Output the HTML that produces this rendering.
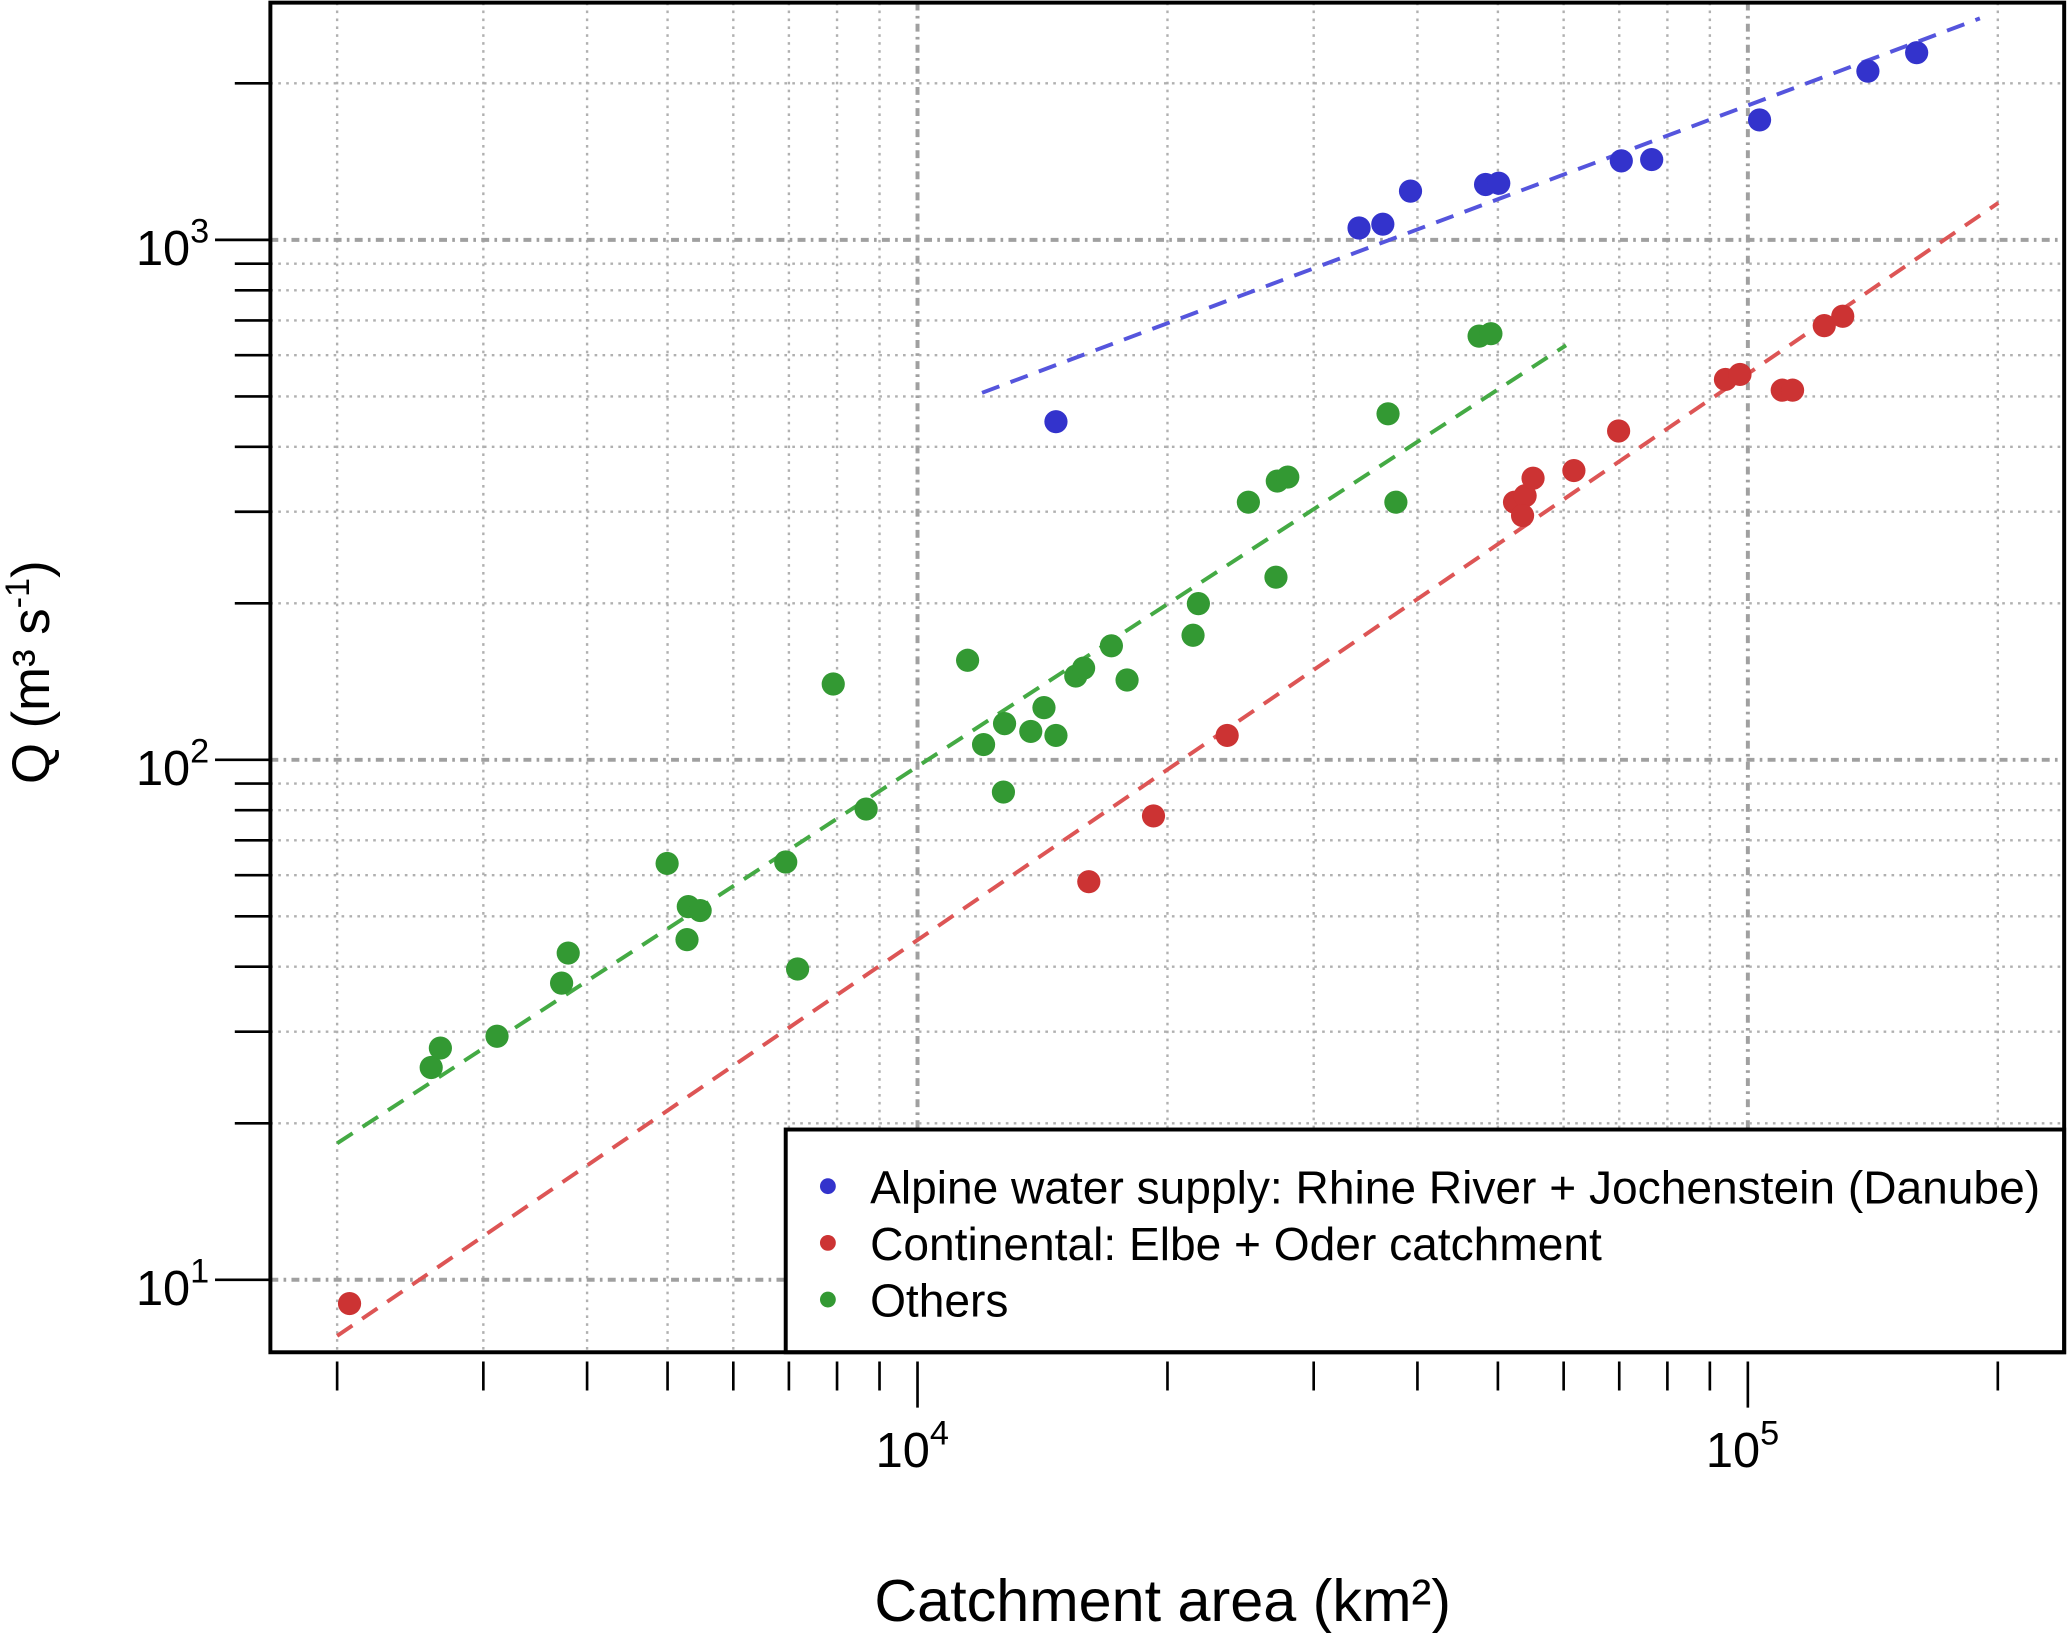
<!DOCTYPE html>
<html><head><meta charset="utf-8"><style>
html,body{margin:0;padding:0;background:#fff}
svg{display:block}
text{font-family:"Liberation Sans",Arial,sans-serif;fill:#000}
</style></head><body>
<svg id="chart" width="2067" height="1633" viewBox="0 0 1568 1239" xmlns="http://www.w3.org/2000/svg">
<g id="grid"></g>
<g id="trends"></g>
<g id="points"></g>
<g id="axes"></g>
<rect x="596" y="857" width="970" height="169" fill="#fff" stroke="#000" stroke-width="3"/>
<g><circle cx="628" cy="900" r="6" fill="#3333cc"/><text x="660" y="913" font-size="35">Alpine water supply: Rhine River + Jochenstein (Danube)</text></g>
<g><circle cx="628" cy="943" r="6" fill="#cc3333"/><text x="660" y="956" font-size="35">Continental: Elbe + Oder catchment</text></g>
<g><circle cx="628" cy="986" r="6" fill="#339933"/><text x="660" y="999" font-size="35">Others</text></g>
<rect x="205" y="2" width="1361" height="1024" fill="none" stroke="#000" stroke-width="3"/>
<text x="882" y="1230" font-size="45" text-anchor="middle">Catchment area (km²)</text>
<text transform="translate(37,510) rotate(-90)" font-size="40" text-anchor="middle">Q (m³ s<tspan dy="-15" font-size="26">-1</tspan><tspan dy="15">)</tspan></text>
</svg>
<script>
const blueX=[14680,34020,36340,39240,48320,50120,70400,76590,103300,139500,159700];
const blueY=[447,1054,1072,1241,1278,1285,1419,1427,1701,2111,2291];
const redX=[2070,16080,19240,23600,52360,53920,53540,55120,61730,69880,93980,97840,110000,113200,123600,130100];
const redY=[9.0,58.3,78.0,111.4,313,322,295,348,360,429,539,551,514,514,684,713];
const greenX=[2596,2663,3116,3727,3796,4994,5277,5296,5473,6939,7171,7916,8672,11490,12010,12690,12730,13690,14200,14680,15510,15850,17120,17880,21470,21790,25030,27020,27120,27920,36870,37680,47460,49040];
const greenY=[25.6,27.9,29.4,37.2,42.5,63.2,45.1,52.2,51.3,63.6,39.6,139.9,80.4,155.4,107,86.7,117.4,113.4,126,111.4,144.9,150.1,165.7,142.4,173.6,199.7,313,224.5,343.7,349.8,462.9,313,653,660];
const blueTrendX=[11960,190300], blueTrendY=[508,2667];
const greenTrendX=[2000,60400], greenTrendY=[18.3,627];
const redTrendX=[2000,200300], redTrendY=[7.8,1178];
const xMinor=[2000,3000,4000,5000,6000,7000,8000,9000,20000,30000,40000,50000,60000,70000,80000,90000,200000];
const xMajor=[10000,100000];
const yMinor=[20,30,40,50,60,70,80,90,200,300,400,500,600,700,800,900,2000];
const yMajor=[10,100,1000];

const NS="http://www.w3.org/2000/svg";
function X(v){return 696+630*(Math.log10(v)-4);}
function Y(v){return 182-394.5*(Math.log10(v)-3);}
function mk(tag,attrs,parent){const e=document.createElementNS(NS,tag);for(const k in attrs)e.setAttribute(k,attrs[k]);parent.appendChild(e);return e;}
const grid=document.getElementById('grid'),axes=document.getElementById('axes'),pts=document.getElementById('points'),tr=document.getElementById('trends');
const L=205,R=1566,T=2,B=1026;
xMinor.forEach(v=>{const x=X(v);
 const g=mk('line',{x1:x,x2:x,y1:T,y2:B,stroke:'#b0b0b0','stroke-width':1.8,'stroke-dasharray':'2 4'},grid);
 
 const t=mk('line',{x1:x,x2:x,y1:1033,y2:1055,stroke:'#000','stroke-width':2},axes);
 });
xMajor.forEach(v=>{const x=X(v);
 const g=mk('line',{x1:x,x2:x,y1:T,y2:B,stroke:'#a0a0a0','stroke-width':3,'stroke-dasharray':'6 4 2 4'},grid);
 
 const t=mk('line',{x1:x,x2:x,y1:1033,y2:1068,stroke:'#000','stroke-width':2},axes);
 
 const tx=mk('text',{x:x-4,y:1113,'font-size':37,'text-anchor':'middle'},axes);
 
 tx.innerHTML='10<tspan dy="-17" font-size="26">'+Math.round(Math.log10(v))+'</tspan>';});
yMinor.forEach(v=>{const y=Y(v);
 const g=mk('line',{x1:L,x2:R,y1:y,y2:y,stroke:'#b0b0b0','stroke-width':1.8,'stroke-dasharray':'2 4'},grid);
 
 const t=mk('line',{x1:178,x2:205,y1:y,y2:y,stroke:'#000','stroke-width':2},axes);
 });
yMajor.forEach(v=>{const y=Y(v);
 const g=mk('line',{x1:L,x2:R,y1:y,y2:y,stroke:'#a0a0a0','stroke-width':3,'stroke-dasharray':'6 4 2 4'},grid);
 
 const t=mk('line',{x1:163,x2:205,y1:y,y2:y,stroke:'#000','stroke-width':2},axes);
 
 const tx=mk('text',{x:103,y:y+19,'font-size':37},axes);
 
 tx.innerHTML='10<tspan dy="-17" font-size="26">'+Math.round(Math.log10(v))+'</tspan>';});
function trend(xs,ys,c,name){const l=mk('line',{x1:X(xs[0]),y1:Y(ys[0]),x2:X(xs[1]),y2:Y(ys[1]),stroke:c,'stroke-width':3,'stroke-dasharray':'14 9'},tr);
 }
trend(blueTrendX,blueTrendY,'#5555dd','trend-alpine');
trend(greenTrendX,greenTrendY,'#44aa44','trend-others');
trend(redTrendX,redTrendY,'#dd5555','trend-continental');
function series(xs,ys,c,name){xs.forEach((v,i)=>{const p=mk('circle',{cx:X(v),cy:Y(ys[i]),r:8.8,fill:c},pts);
 });}
series(greenX,greenY,'#339933','point-others');
series(redX,redY,'#cc3333','point-continental');
series(blueX,blueY,'#3333cc','point-alpine');
</script>
</body></html>
